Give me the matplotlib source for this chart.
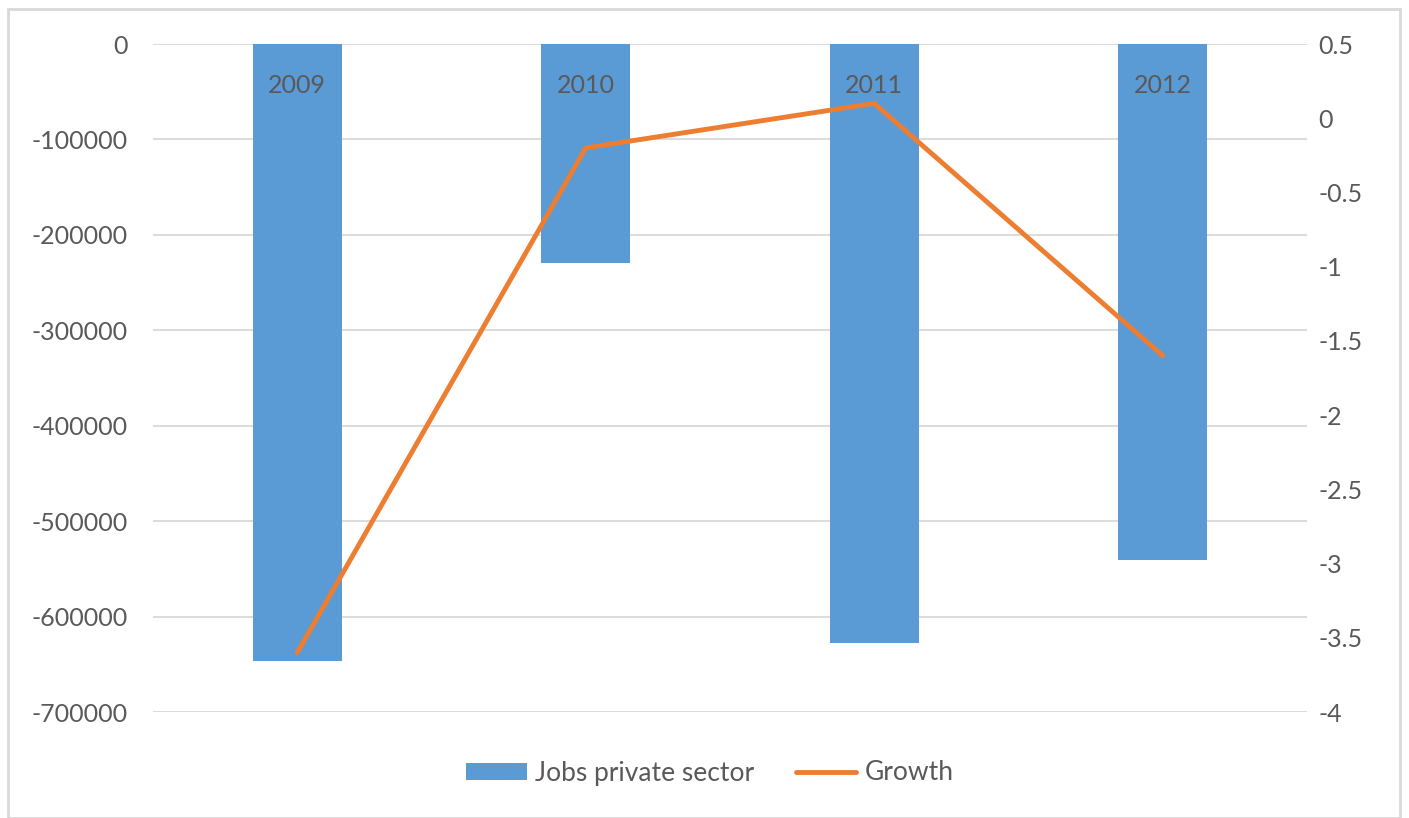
import matplotlib
matplotlib.use("Agg")
import matplotlib.pyplot as plt
from matplotlib.patches import Rectangle, Patch
from matplotlib.lines import Line2D
from matplotlib.ticker import FuncFormatter

years = ["2009", "2010", "2011", "2012"]
jobs = [-647000, -229000, -628000, -541000]
growth = [-3.6, -0.2, 0.1, -1.6]
left_ticks = [0, -100000, -200000, -300000, -400000, -500000, -600000, -700000]
right_ticks = [0.5, 0, -0.5, -1, -1.5, -2, -2.5, -3, -3.5, -4]

plt.rcParams['font.family'] = ['Lato', 'DejaVu Sans']
TXT = '#595959'
GRID = '#d9d9d9'

fig = plt.figure(figsize=(14.09, 8.18), dpi=100)
fig.patches.append(Rectangle((8/1409, 0), (1400-8)/1409, 1 - 9/818, transform=fig.transFigure,
                             fill=False, edgecolor='#d9d9d9', linewidth=2))

ax = fig.add_axes([153/1409, 1-712/818, (1307-153)/1409, (712-44)/818])
x = list(range(len(years)))
ax.bar(x, jobs, width=0.31, color='#5b9bd5', zorder=2)
ax.set_xlim(-0.5, 3.5)
ax.set_ylim(-700000, 0)
ax.set_yticks(left_ticks)
ax.yaxis.set_major_formatter(FuncFormatter(lambda v, p: f"{int(v)}"))
ax.tick_params(axis='y', length=0, pad=18, labelsize=18, labelcolor=TXT)
ax.set_xticks([])
ax.grid(axis='y', color=GRID, linewidth=1.3, zorder=0)
ax.set_axisbelow(True)
for s in ax.spines.values():
    s.set_visible(False)
for xi, y in zip(x, years):
    ax.annotate(y, (xi, 0), xytext=(0, -21.5), textcoords='offset points',
                ha='center', va='top', fontsize=18, color=TXT, zorder=3)

ax2 = ax.twinx()
ax2.plot(x, growth, color='#ed7d31', linewidth=3.5, solid_capstyle='round', zorder=4)
ax2.set_ylim(-4, 0.5)
ax2.set_yticks(right_ticks)
ax2.yaxis.set_major_formatter(FuncFormatter(lambda v, p: f"{v:g}"))
ax2.tick_params(axis='y', length=0, pad=8, labelsize=18, labelcolor=TXT)
for s in ax2.spines.values():
    s.set_visible(False)

handles = [Patch(facecolor='#5b9bd5', label='Jobs private sector'),
           Line2D([0], [0], color='#ed7d31', linewidth=3.5, solid_capstyle='round', label='Growth')]
leg = fig.legend(handles=handles, loc='center', bbox_to_anchor=(710/1409, 1-773/818), ncol=2,
                 frameon=False, fontsize=19, labelcolor=TXT, handlelength=2.3, handletextpad=0.34,
                 columnspacing=1.55, handleheight=0.6)

fig.savefig('out.png', dpi=100)
